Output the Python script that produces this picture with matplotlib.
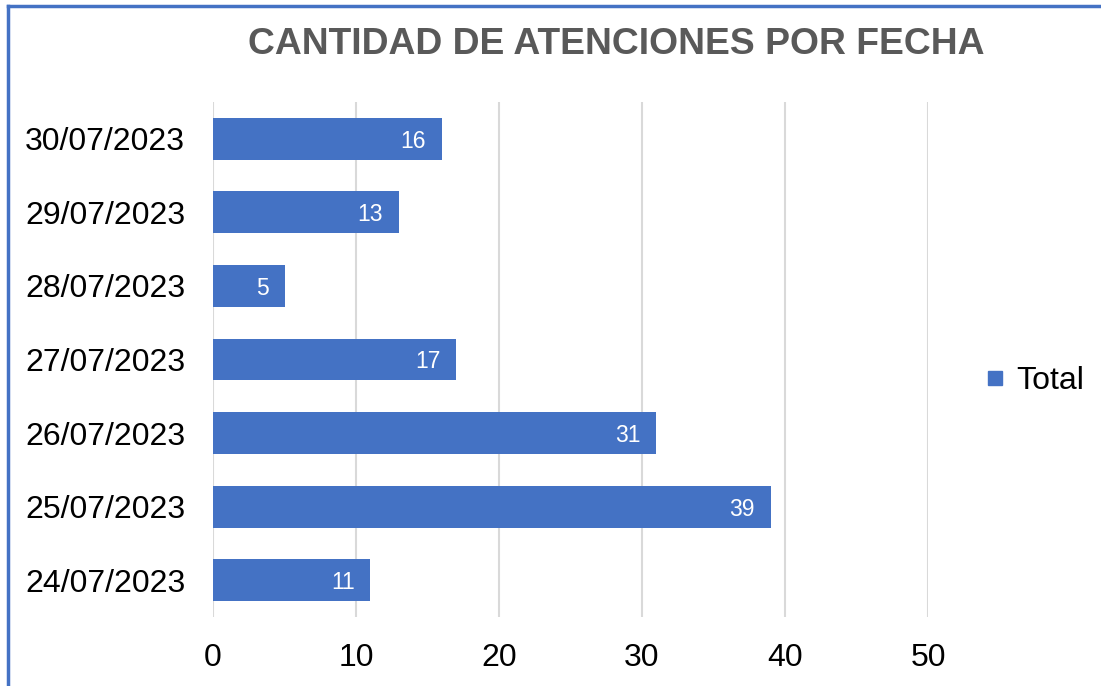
import matplotlib.pyplot as plt
from matplotlib.lines import Line2D

fechas = ["24/07/2023", "25/07/2023", "26/07/2023", "27/07/2023",
          "28/07/2023", "29/07/2023", "30/07/2023"]
totales = [11, 39, 31, 17, 5, 13, 16]
xticks = [0, 10, 20, 30, 40, 50]

BLUE = "#4472C4"
plt.rcParams["font.family"] = ["Liberation Sans", "DejaVu Sans"]

fig = plt.figure(figsize=(11.01, 6.86), dpi=100)
ax = fig.add_axes([213 / 1101, 1 - 617 / 686, (928 - 213) / 1101, (617 - 102) / 686])

bars = ax.barh(range(len(fechas)), totales, height=0.57, color=BLUE, label="Total", zorder=3)
for b, v in zip(bars, totales):
    ax.text(b.get_width() - 1.1, b.get_y() + b.get_height() / 2, str(v),
            color="white", fontsize=16.5, ha="right", va="center_baseline", zorder=4)

ax.set_xlim(0, 50)
ax.set_ylim(-0.5, len(fechas) - 0.5)
ax.set_yticks(range(len(fechas)))
ax.set_yticklabels(fechas, fontsize=23)
ax.set_xticks(xticks)
ax.set_xticklabels([str(t) for t in xticks], fontsize=23)
ax.tick_params(axis="both", length=0)
ax.tick_params(axis="x", pad=19)
ax.tick_params(axis="y", pad=20)
ax.grid(axis="x", color="#D9D9D9", linewidth=1.5, zorder=0)
for s in ax.spines.values():
    s.set_visible(False)

fig.text(616 / 1101, 1 - 45 / 686, "CANTIDAD DE ATENCIONES POR FECHA", fontsize=26.8,
         fontweight="bold", color="#595959", ha="center", va="center")

handle = Line2D([], [], marker="s", linestyle="none", markersize=10, color=BLUE)
fig.legend([handle], ["Total"], loc="center left", bbox_to_anchor=(984 / 1101, 1 - 381 / 686),
           frameon=False, fontsize=23, handlelength=0.7, handletextpad=0.3, borderaxespad=0,
           borderpad=0)

# border of the chart box (only top and left are visible in the crop)
fig.add_artist(Line2D([8 / 1101, 1], [1 - 6 / 686, 1 - 6 / 686], color=BLUE, linewidth=2.5))
fig.add_artist(Line2D([8 / 1101, 8 / 1101], [0, 1 - 6 / 686], color=BLUE, linewidth=2.5))

fig.savefig("out.png", dpi=100)
